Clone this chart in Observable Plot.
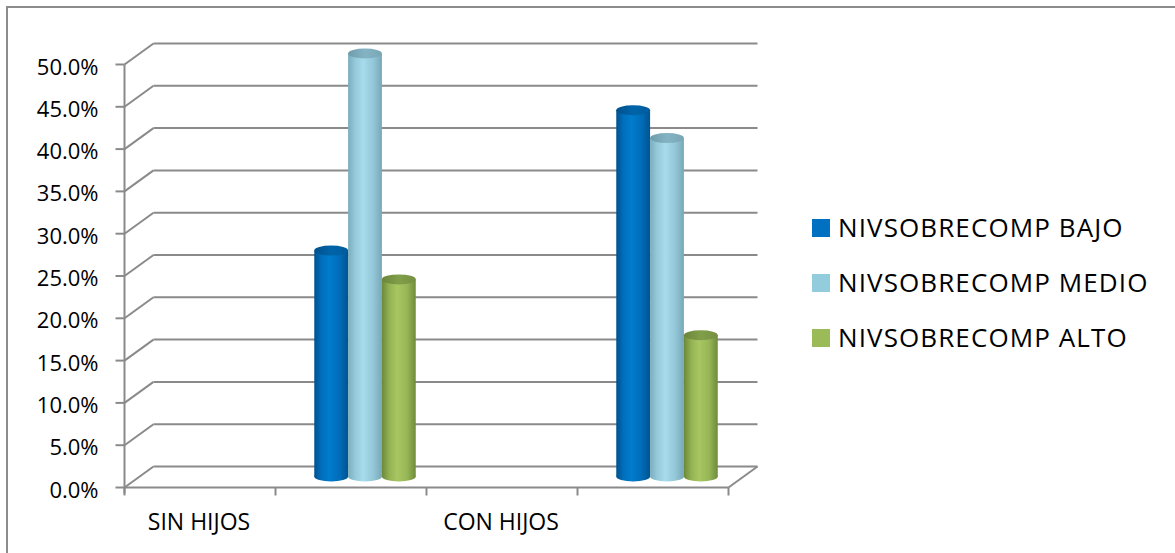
<!DOCTYPE html>
<html>
<head>
<meta charset="utf-8">
<script src="https://cdn.jsdelivr.net/npm/d3@7"></script>
<script src="https://cdn.jsdelivr.net/npm/@observablehq/plot@0.6"></script>
<style>
  html, body { margin: 0; padding: 0; background: #fff; }
  #page { position: relative; width: 1175px; height: 553px; overflow: hidden; font-family: "Open Sans", sans-serif; }
  #frame { position: absolute; left: 6px; top: 6px; width: 1400px; height: 800px;
           border-left: 2px solid #8c8c8c; border-top: 2px solid #8c8c8c; }
  #chart { position: absolute; left: 0; top: 0; }
  #legend { position: absolute; left: 812px; top: 0; }
  .swatch { position: absolute; left: 0; width: 18px; height: 18px; }
  .label { position: absolute; left: 26px; font-size: 26px; line-height: 26px; letter-spacing: 1.1px;
           color: #000; white-space: nowrap; }
</style>
</head>
<body>
<div id="page">
  <div id="frame"></div>
  <div id="chart"></div>
  <div id="legend"></div>
</div>
<script>
// Share of each over-commitment level, by whether the person has children
const categories = ["SIN HIJOS", "CON HIJOS"];
const series = ["NIVSOBRECOMP BAJO", "NIVSOBRECOMP MEDIO", "NIVSOBRECOMP ALTO"];
const bajo  = [0.267, 0.433];
const medio = [0.500, 0.400];
const alto  = [0.233, 0.167];
const yTicks = [0, 0.05, 0.10, 0.15, 0.20, 0.25, 0.30, 0.35, 0.40, 0.45, 0.50];

const seriesValues = [bajo, medio, alto];
const seriesKeys = ["bajo", "medio", "alto"];
const swatchColors = ["#0070c0", "#93cddd", "#9bbb59"];

// cylinder shading: left edge, highlight, right edge
const bodyStops = [
  ["#00528f", "#0070bd", "#007ccc", "#006cb8", "#00548f"],
  ["#7aaebf", "#97cadb", "#a6dcec", "#93c6d6", "#77a8b9"],
  ["#6c8838", "#93b353", "#a8c762", "#96b556", "#6f8b3b"]
];
const topStops = [
  ["#00508a", "#0064aa", "#005c9c"],
  ["#6f9cab", "#84b4c4", "#79a6b5"],
  ["#6a853a", "#819f4a", "#768f41"]
];

// projection of the chart box
const W = 780, H = 553;
const xRange = [124, 728], yRange = [487, 64];
const depth = {dx: 29, dy: -21};         // back wall offset in pixels
const xs = Plot.scale({x: {type: "linear", domain: [0, categories.length], range: xRange}});
const ys = Plot.scale({y: {type: "linear", domain: [0, 0.5], range: yRange}});
const ddx = xs.invert(xRange[0] + depth.dx) - 0;
const ddy = ys.invert(yRange[0] + depth.dy) - 0;

// column layout inside each category band (band units)
const barW = 0.112;
const groupCenter = 0.75;
const barShift = {dx: depth.dx / 2, dy: depth.dy / 2};
const ellipseHalf = 5;

const grid = {stroke: "#8a8a8a", strokeWidth: 2};

function defs() {
  const d = d3.create("svg:defs");
  seriesKeys.forEach((k, j) => {
    const g = d.append("linearGradient").attr("id", `body-${k}`).attr("x1", 0).attr("x2", 1).attr("y1", 0).attr("y2", 0);
    [0, 0.22, 0.45, 0.75, 1].forEach((o, s) => g.append("stop").attr("offset", o).attr("stop-color", bodyStops[j][s]));
    const t = d.append("linearGradient").attr("id", `top-${k}`).attr("x1", 0).attr("x2", 1).attr("y1", 0).attr("y2", 0);
    [0, 0.5, 1].forEach((o, s) => t.append("stop").attr("offset", o).attr("stop-color", topStops[j][s]));
  });
  return d.node();
}

const cylinderMarks = seriesKeys.flatMap((k, j) => {
  const data = categories.map((c, i) => ({category: c, ci: i, value: seriesValues[j][i]}));
  const x1 = (d) => d.ci + groupCenter + (j - 1) * barW - barW / 2;
  const x2 = (d) => d.ci + groupCenter + (j - 1) * barW + barW / 2;
  return [
    Plot.rect(data, {x1, x2, y1: () => 0, y2: () => 0, insetTop: -ellipseHalf, insetBottom: -ellipseHalf,
      rx: 30, ry: ellipseHalf, fill: `url(#body-${k})`, ...barShift}),
    Plot.rect(data, {x1, x2, y1: () => 0, y2: "value", fill: `url(#body-${k})`, ...barShift}),
    Plot.rect(data, {x1, x2, y1: "value", y2: "value", insetTop: -ellipseHalf, insetBottom: -ellipseHalf,
      rx: 30, ry: ellipseHalf, fill: `url(#top-${k})`, ...barShift})
  ];
});

const categoryTicks = d3.range(0, categories.length + 0.01, 0.5);

const chart = Plot.plot({
  width: W,
  height: H,
  marginLeft: 0, marginRight: 0, marginTop: 0, marginBottom: 0,
  x: {type: "linear", domain: [0, categories.length], range: xRange, axis: null},
  y: {type: "linear", domain: [0, 0.5], range: yRange, axis: null},
  style: {fontFamily: '"Open Sans", sans-serif', background: "transparent", overflow: "visible", color: "#000"},
  marks: [
    defs,
    // back wall gridlines
    Plot.link(yTicks, {x1: () => ddx, x2: () => categories.length + ddx, y1: (d) => d + ddy, y2: (d) => d + ddy, ...grid}),
    // side wall diagonals
    Plot.link(yTicks, {x1: () => 0, x2: () => ddx, y1: (d) => d, y2: (d) => d + ddy, ...grid}),
    // floor front edge and right diagonal
    Plot.link([0], {x1: () => 0, x2: () => categories.length, y1: () => 0, y2: () => 0, ...grid}),
    Plot.link([0], {x1: () => categories.length, x2: () => categories.length + ddx, y1: () => 0, y2: () => ddy, ...grid}),
    // vertical value axis with tick marks
    Plot.link([0], {x1: () => 0, x2: () => 0, y1: () => ys.invert(493), y2: () => 0.5, ...grid}),
    Plot.link(yTicks, {x1: () => xs.invert(115), x2: () => 0, y1: (d) => d, y2: (d) => d, ...grid}),
    // category axis ticks
    Plot.link(categoryTicks, {x1: (d) => d, x2: (d) => d, y1: () => 0, y2: () => ys.invert(495), ...grid}),
    ...cylinderMarks,
    // value labels
    Plot.text(yTicks, {x: () => 0, y: (d) => d, text: d3.format(".1%"), textAnchor: "end",
      dx: -26, dy: 3, fontSize: 22, fill: "#000"}),
    // category labels
    Plot.text(categories, {x: (d, i) => i + 0.25, y: () => 0, text: (d) => d, textAnchor: "middle",
      dx: -1, dy: 35, fontSize: 23, fill: "#000"})
  ]
});
document.getElementById("chart").appendChild(chart);

// legend
const legend = d3.select("#legend");
series.forEach((s, j) => {
  const top = 219 + j * 55;
  legend.append("div").attr("class", "swatch").style("top", `${top}px`).style("background", swatchColors[j]);
  legend.append("div").attr("class", "label").style("top", `${top - 5}px`).text(s);
});
</script>
</body>
</html>
